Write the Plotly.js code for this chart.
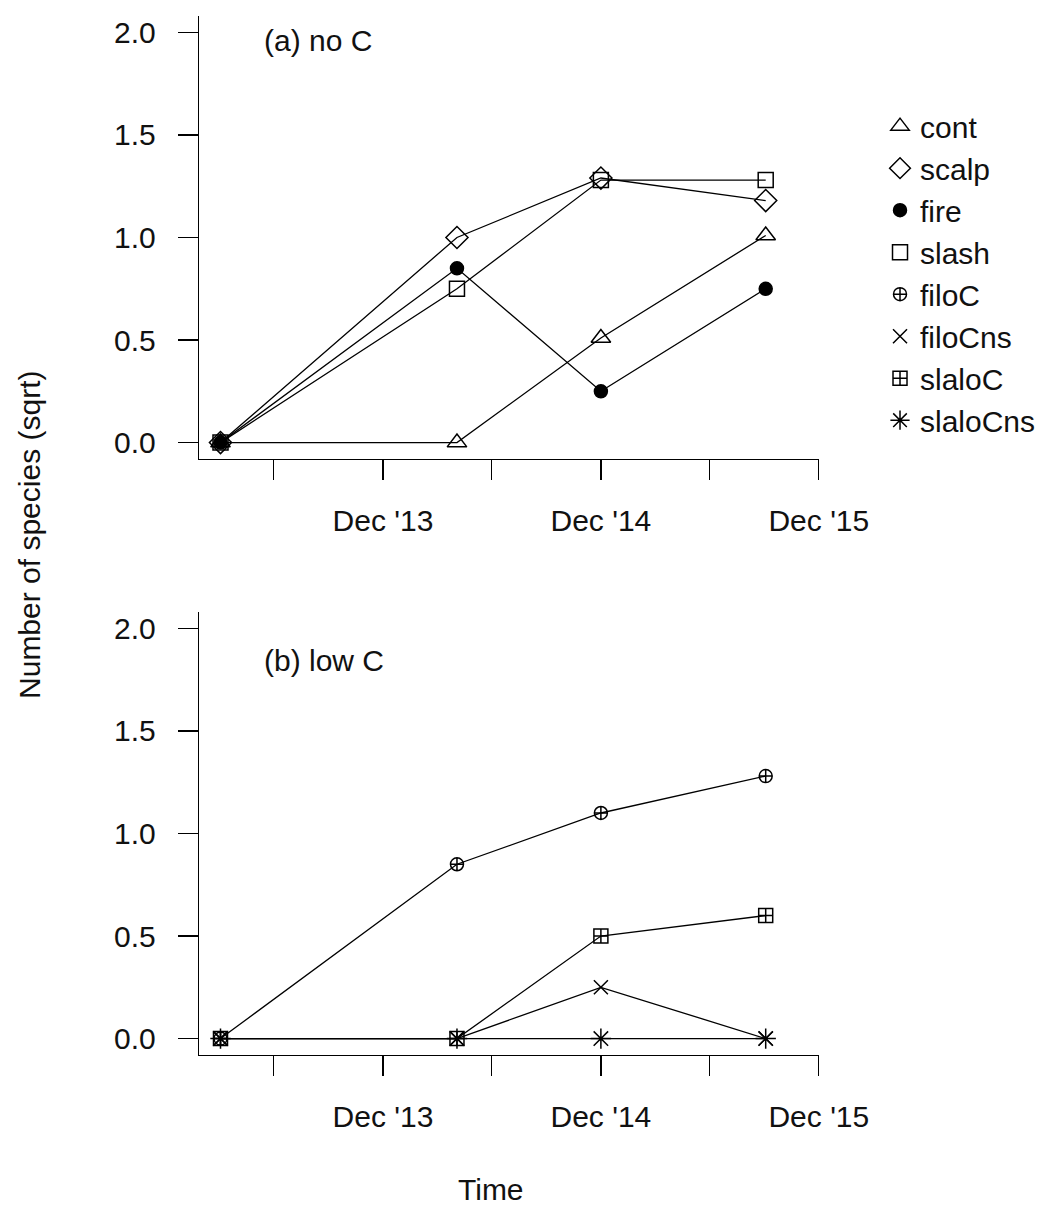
<!DOCTYPE html>
<html>
<head>
<meta charset="utf-8">
<script src="https://cdn.plot.ly/plotly-3.0.1.min.js"></script>
<style>html,body{margin:0;padding:0;background:#fff;}#chart{width:1044px;height:1208px;}</style>
</head>
<body>
<div id="chart"></div>
<script>
// ---- data ----
var dates = ['2013-03-04', '2014-04-04', '2014-12-01', '2015-09-03'];

// panel (a) no C
var cont  = [0, 0, 0.51, 1.01];
var scalp = [0, 1.0, 1.29, 1.18];
var fire  = [0, 0.85, 0.25, 0.75];
var slash = [0, 0.75, 1.28, 1.28];

// panel (b) low C
var filoC    = [0, 0.85, 1.10, 1.28];
var filoCns  = [0, 0, 0.25, 0];
var slaloC   = [0, 0, 0.50, 0.60];
var slaloCns = [0, 0, 0, 0];

var tickDates  = ['2013-06-01', '2013-12-01', '2014-06-01', '2014-12-01', '2015-06-01', '2015-12-01'];
var tickLabels = ['', "Dec '13", '', "Dec '14", '', "Dec '15"];
var yTicks     = [0, 0.5, 1.0, 1.5, 2.0];
var yTickText  = ['0.0', '0.5', '1.0', '1.5', '2.0'];

var seriesNames = ['cont', 'scalp', 'fire', 'slash', 'filoC', 'filoCns', 'slaloC', 'slaloCns'];

// ---- styles ----
var FONT = 'Liberation Sans, Arial, Helvetica, sans-serif';
var styles = {
  cont:     {symbol: 'triangle-up-open', size: 17},
  scalp:    {symbol: 'diamond-open', size: 17},
  fire:     {symbol: 'circle', size: 13},
  slash:    {symbol: 'square-open', size: 15},
  filoC:    {symbol: 'circle-cross-open', size: 13},
  filoCns:  {symbol: 'x-thin-open', size: 14},
  slaloC:   {symbol: 'square-cross-open', size: 14},
  slaloCns: {symbol: 'asterisk-open', size: 17}
};

function series(name, y, xa, ya) {
  var s = styles[name];
  return {
    type: 'scatter', mode: 'lines+markers', x: dates, y: y,
    xaxis: xa, yaxis: ya, showlegend: false, name: name,
    line: {color: '#000', width: 1.3},
    marker: {symbol: s.symbol, size: s.size, color: '#000', line: {color: '#000', width: 1.5}},
    cliponaxis: false
  };
}

var traces = [
  series('cont', cont, 'x2', 'y2'),
  series('scalp', scalp, 'x2', 'y2'),
  series('fire', fire, 'x2', 'y2'),
  series('slash', slash, 'x2', 'y2'),
  series('filoC', filoC, 'x', 'y'),
  series('filoCns', filoCns, 'x', 'y'),
  series('slaloC', slaloC, 'x', 'y'),
  series('slaloCns', slaloCns, 'x', 'y')
];

// legend-only entries (markers only, no data)
seriesNames.forEach(function (n) {
  var s = styles[n];
  traces.push({
    type: 'scatter', mode: 'markers', x: [null], y: [null], name: n,
    xaxis: 'x2', yaxis: 'y2', showlegend: true,
    marker: {symbol: s.symbol, size: s.size, color: '#000', line: {color: '#000', width: 1.5}}
  });
});

var xRange = ['2013-01-27', '2015-12-01 06:00'];
function xAxis(anchor) {
  return {
    type: 'date', range: xRange, anchor: anchor,
    tickmode: 'array', tickvals: tickDates, ticktext: tickLabels,
    ticks: 'outside', ticklen: 20, tickwidth: 1.3, tickcolor: '#000',
    showline: true, linecolor: '#000', linewidth: 1.3,
    showgrid: false, zeroline: false, ticklabelstandoff: 15,
    tickfont: {family: FONT, size: 30, color: '#111'}
  };
}
function yAxis(anchor, domain) {
  return {
    range: [-0.08, 2.08], anchor: anchor, domain: domain,
    tickmode: 'array', tickvals: yTicks, ticktext: yTickText,
    ticks: 'outside', ticklen: 20, tickwidth: 1.3, tickcolor: '#000',
    showline: true, linecolor: '#000', linewidth: 1.3,
    showgrid: false, zeroline: false, ticklabelstandoff: 16,
    tickfont: {family: FONT, size: 30, color: '#111'}
  };
}

var layout = {
  width: 1044, height: 1208,
  margin: {l: 199, r: 225, t: 16, b: 153, autoexpand: false},
  paper_bgcolor: '#fff', plot_bgcolor: '#fff',
  font: {family: FONT, size: 30, color: '#111'},
  xaxis: xAxis('y'),
  yaxis: yAxis('x', [0, 0.42637]),
  xaxis2: xAxis('y2'),
  yaxis2: yAxis('x2', [0.57363, 1]),
  showlegend: true,
  legend: {
    x: 1.0984, y: 0.919, xanchor: 'left', yanchor: 'top',
    font: {family: FONT, size: 30, color: '#111'},
    bgcolor: 'rgba(0,0,0,0)', borderwidth: 0, tracegroupgap: 0
  },
  annotations: [
    {text: 'Number of species (sqrt)', xref: 'paper', yref: 'paper', x: -0.2726, y: 0.5005,
     xanchor: 'center', yanchor: 'middle', textangle: -90, showarrow: false,
     font: {family: FONT, size: 30, color: '#111'}},
    {text: 'Time', xref: 'paper', yref: 'paper', x: 0.471, y: -0.1299,
     xanchor: 'center', yanchor: 'middle', showarrow: false,
     font: {family: FONT, size: 30, color: '#111'}},
    {text: '(a) no C', xref: 'paper', yref: 'paper', x: 0.1016, y: 0.976,
     xanchor: 'left', yanchor: 'middle', showarrow: false,
     font: {family: FONT, size: 30, color: '#111'}},
    {text: '(b) low C', xref: 'paper', yref: 'paper', x: 0.1016, y: 0.380,
     xanchor: 'left', yanchor: 'middle', showarrow: false,
     font: {family: FONT, size: 30, color: '#111'}}
  ]
};

Plotly.newPlot('chart', traces, layout, {displayModeBar: false, staticPlot: true});
</script>
</body>
</html>
